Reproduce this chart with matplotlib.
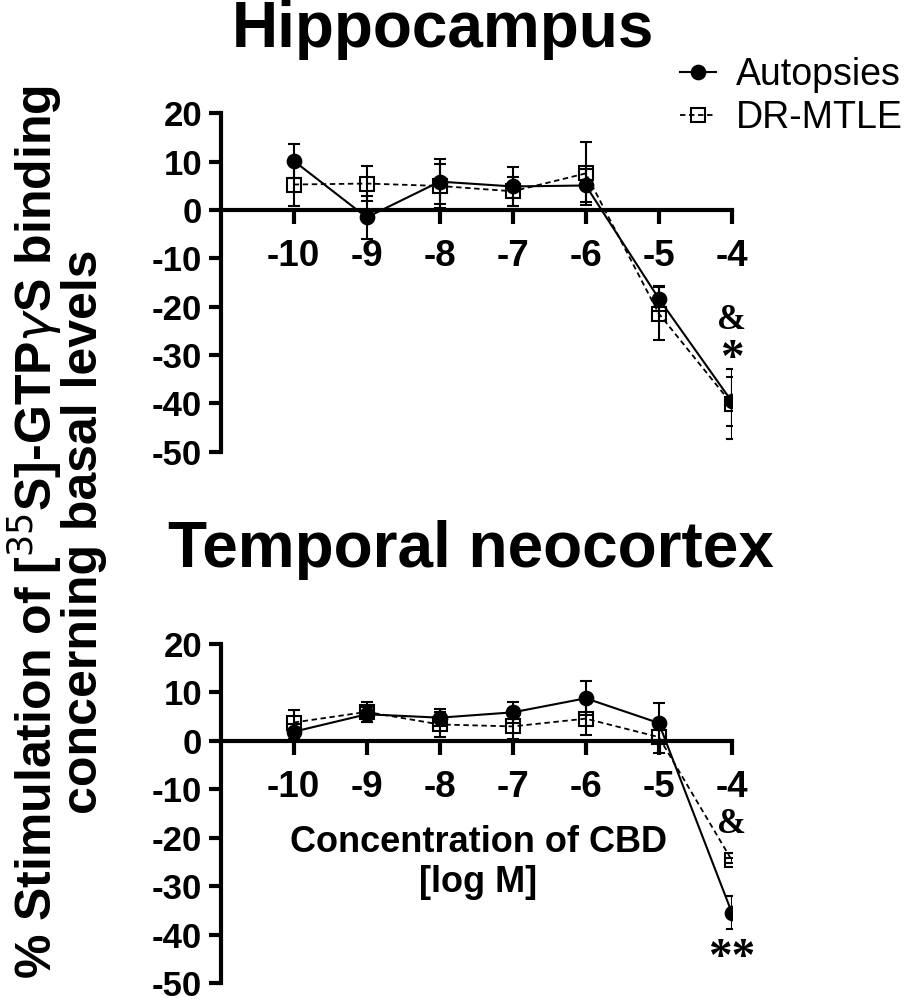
import matplotlib
matplotlib.use("Agg")
import matplotlib.pyplot as plt
from matplotlib.lines import Line2D

SANS = ['Liberation Sans', 'DejaVu Sans']
SERIF = ['Liberation Serif', 'DejaVu Serif']

# ---- data ----
conc = [-10, -9, -8, -7, -6, -5, -4]
xtick_labels = ['-10', '-9', '-8', '-7', '-6', '-5', '-4']
yticks = [20, 10, 0, -10, -20, -30, -40, -50]

hip_aut = [10.2, -1.5, 5.9, 4.9, 5.1, -18.3, -39.6]
hip_aut_err = [3.5, 4.5, 4.6, 4.0, 3.5, 2.6, 5.0]
hip_dr = [5.3, 5.5, 5.0, 3.9, 7.6, -21.4, -40.1]
hip_dr_err = [4.4, 3.6, 4.5, 3.0, 6.5, 5.5, 7.3]

tmp_aut = [1.9, 5.5, 4.8, 5.9, 8.8, 3.7, -35.4]
tmp_aut_err = [1.5, 1.5, 1.7, 2.2, 3.5, 4.2, 3.5]
tmp_dr = [3.8, 6.0, 3.4, 3.0, 4.6, 0.8, -24.6]
tmp_dr_err = [2.5, 2.0, 2.5, 2.5, 3.4, 3.2, 0.5]

fig = plt.figure(figsize=(9.08, 10), dpi=100)
W, H = 908, 1000

def make_ax(top_px, bot_px):
    left, right = 220.7, 731.8
    return fig.add_axes([left / W, 1 - bot_px / H, (right - left) / W, (bot_px - top_px) / H])

ax1 = make_ax(113.5, 451.7)
ax2 = make_ax(644, 983.3)

def style(ax):
    ax.set_xlim(-11, -4)
    ax.set_ylim(-50, 20)
    for s in ['top', 'right']:
        ax.spines[s].set_visible(False)
    ax.spines['bottom'].set_position(('data', 0))
    ax.spines['left'].set_linewidth(3)
    ax.spines['bottom'].set_linewidth(3)
    ax.spines['left'].set_capstyle('projecting')
    ax.set_xticks(conc)
    ax.set_xticklabels(xtick_labels)
    ax.set_yticks(yticks)
    ax.set_yticklabels([str(v) for v in yticks])
    ax.tick_params(axis='x', direction='out', length=10, width=3, pad=11)
    ax.tick_params(axis='y', direction='out', length=9, width=3, pad=4.5)
    for lab in ax.get_xticklabels():
        lab.set_fontfamily(SANS)
        lab.set_fontweight('bold')
        lab.set_fontsize(26.5)
    for lab in ax.get_yticklabels():
        lab.set_fontfamily(SANS)
        lab.set_fontweight('bold')
        lab.set_fontsize(25)
    ax.patch.set_alpha(0)

def plot(ax, aut, aut_err, dr, dr_err):
    ax.errorbar(conc, dr, yerr=dr_err, color='black', linestyle=(0, (3, 2)), linewidth=1.3,
                marker='s', markersize=10.5, markerfacecolor='none', markeredgecolor='black',
                markeredgewidth=1.5, capsize=4.6, elinewidth=1.5, capthick=1.5, zorder=3)
    ax.errorbar(conc, aut, yerr=aut_err, color='black', linestyle='-', linewidth=1.5,
                marker='o', markersize=10.3, markerfacecolor='black',
                capsize=4.6, elinewidth=1.5, capthick=1.5, zorder=4)

plot(ax1, hip_aut, hip_aut_err, hip_dr, hip_dr_err)
plot(ax2, tmp_aut, tmp_aut_err, tmp_dr, tmp_dr_err)
style(ax1)
style(ax2)

# significance marks
ax1.text(-4, -22.9, '&', ha='center', va='center', fontsize=25, fontweight='bold', family=SERIF)
ax1.text(-4, -31.0, '*', ha='center', va='center', fontsize=34, fontweight='bold', family=SERIF)
ax2.text(-4, -17.2, '&', ha='center', va='center', fontsize=25, fontweight='bold', family=SERIF)
ax2.text(-4, -44.9, '**', ha='center', va='center', fontsize=34, fontweight='bold', family=SERIF)

# x label inside bottom panel
ax2.text(-7.475, -25.0, 'Concentration of CBD\n[log M]', ha='center', va='center', fontsize=26,
         fontweight='bold', family=SANS, linespacing=1.18)

# titles
fig.text(443 / W, 1 - 47 / H, 'Hippocampus', ha='center', va='baseline', fontsize=46,
         fontweight='bold', family=SANS)
fig.text(471 / W, 1 - 567 / H, 'Temporal neocortex', ha='center', va='baseline', fontsize=46,
         fontweight='bold', family=SANS)

# y label
fig.text(56 / W, 1 - 532 / H,
         '% Stimulation of [$^{35}$S]-GTP$\\gamma$S binding\nconcerning basal levels',
         rotation=90, ha='center', va='center', fontsize=36, fontweight='bold', family=SANS,
         linespacing=0.92)

# legend
hA = Line2D([], [], color='black', linestyle='-', linewidth=1.5, marker='o', markersize=10.3)
hD = Line2D([], [], color='black', linestyle=(0, (3, 2)), linewidth=1.3, marker='s',
            markersize=10, markerfacecolor='none', markeredgewidth=1.5)
leg = fig.legend([hA, hD], ['Autopsies', 'DR-MTLE'], loc='upper left',
                 bbox_to_anchor=(680 / W, 1 - 57 / H), frameon=False, borderpad=0,
                 borderaxespad=0, handlelength=0.95, handletextpad=0.55, labelspacing=0.18,
                 prop={'family': SANS, 'size': 27})

fig.savefig('out.png', dpi=100)
